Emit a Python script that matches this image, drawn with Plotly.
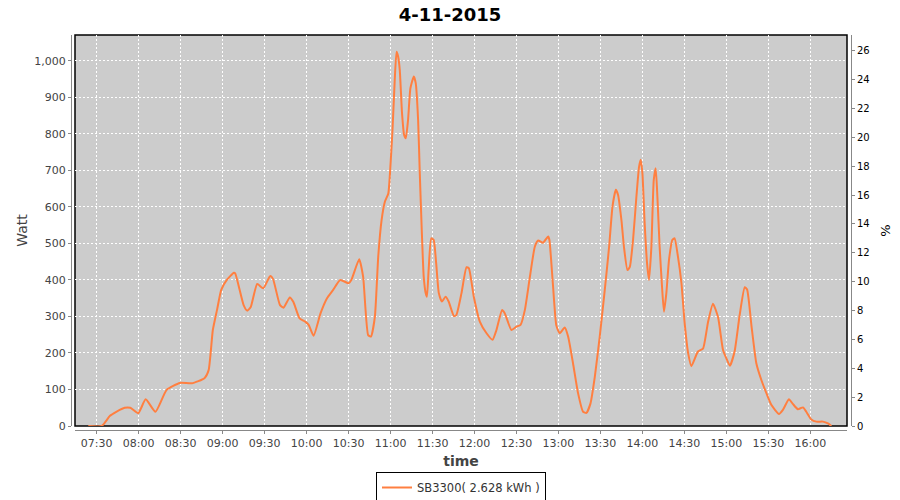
import plotly.graph_objects as go

DAY = "2015-11-04 "

times = [
    "07:24:00", "07:33:36", "07:39:30", "07:44:00", "07:50:00", "07:54:00", "07:59:42", "08:05:00",
    "08:12:00", "08:20:00", "08:29:30", "08:38:00", "08:47:00", "08:50:00", "08:53:00", "08:56:00",
    "08:59:00", "09:03:00", "09:08:00", "09:09:00", "09:15:00", "09:17:30", "09:20:00", "09:24:42",
    "09:29:00", "09:34:00", "09:36:00", "09:41:00", "09:43:30", "09:48:00", "09:50:30", "09:55:00",
    "09:59:00", "10:01:30", "10:05:00", "10:10:00", "10:14:36", "10:19:00", "10:24:00", "10:30:00",
    "10:32:00", "10:37:36", "10:40:24", "10:44:00", "10:46:00", "10:48:48", "10:51:12", "10:53:36",
    "10:56:00", "10:58:24", "10:59:36", "11:01:24", "11:03:00", "11:04:18", "11:05:24", "11:06:36",
    "11:08:12", "11:09:42", "11:10:54", "11:12:30", "11:14:12", "11:16:36", "11:18:00", "11:19:42",
    "11:20:54", "11:22:18", "11:23:42", "11:25:06", "11:26:00", "11:27:12", "11:29:06", "11:30:48",
    "11:32:36", "11:34:30", "11:36:42", "11:39:18", "11:41:30", "11:45:18", "11:47:00", "11:50:42",
    "11:54:18", "11:56:00", "11:59:30", "12:03:48", "12:08:36", "12:12:54", "12:15:42", "12:19:42",
    "12:21:36", "12:26:24", "12:30:00", "12:32:54", "12:36:00", "12:39:36", "12:43:06", "12:45:30",
    "12:49:00", "12:52:36", "12:53:30", "12:56:00", "12:58:30", "13:00:54", "13:04:30", "13:06:54",
    "13:10:24", "13:14:00", "13:17:36", "13:20:00", "13:22:54", "13:26:00", "13:29:30", "13:33:06",
    "13:36:12", "13:38:36", "13:41:00", "13:42:36", "13:45:00", "13:46:48", "13:49:18", "13:51:00",
    "13:53:18", "13:55:42", "13:57:36", "13:58:48", "14:00:00", "14:01:36", "14:03:18", "14:04:42",
    "14:06:24", "14:08:06", "14:09:30", "14:10:42", "14:12:18", "14:14:00", "14:15:24", "14:17:06",
    "14:19:00", "14:21:24", "14:23:00", "14:25:24", "14:27:54", "14:30:12", "14:32:42", "14:35:00",
    "14:39:42", "14:43:18", "14:46:54", "14:50:24", "14:54:00", "14:57:36", "15:00:00", "15:02:30",
    "15:05:54", "15:09:30", "15:13:06", "15:14:48", "15:18:00", "15:21:24", "15:25:00", "15:28:36",
    "15:32:06", "15:37:36", "15:40:24", "15:44:42", "15:47:36", "15:51:06", "15:54:42", "15:57:06",
    "16:00:42", "16:04:18", "16:09:00", "16:12:36", "16:15:00",
]

watts = [
    0, 0, 28, 39, 50, 50, 35, 73,
    39, 99, 118, 117, 131, 153, 263, 318,
    373, 400, 420, 418, 331, 316, 325, 389,
    377, 411, 403, 331, 324, 352, 340, 295,
    286, 277, 247, 309, 350, 373, 400, 391,
    400, 457, 409, 249, 245, 299, 464, 564,
    615, 637, 692, 811, 948, 1025, 1012, 975,
    857, 797, 788, 838, 925, 957, 939, 838,
    692, 537, 409, 364, 354, 427, 514, 510,
    446, 364, 341, 354, 341, 301, 304, 364,
    435, 432, 354, 286, 254, 236, 263, 318,
    309, 263, 272, 277, 318, 409, 491, 508,
    502, 519, 510, 390, 275, 254, 270, 245,
    172, 90, 39, 36, 62, 135, 245, 373,
    491, 601, 647, 633, 564, 491, 427, 436,
    510, 628, 710, 729, 692, 555, 446, 400,
    491, 674, 706, 628, 491, 382, 313, 364,
    455, 510, 514, 464, 391, 281, 199, 164,
    204, 212, 285, 335, 299, 208, 185, 165,
    205, 304, 380, 374, 272, 172, 126, 90,
    58, 33, 44, 73, 60, 46, 51, 39,
    18, 12, 12, 7, 0,
]

series_name = "SB3300( 2.628 kWh )"
chart_title = "4-11-2015"
x_range = ["07:14:30", "16:26:12"]
watt_range = [0, 1071]
pct_range = [0, 27.09]

x = [DAY + t for t in times]

fig = go.Figure()
fig.add_trace(go.Scatter(
    x=x, y=watts, mode="lines", name=series_name,
    line=dict(color="#ff7f40", width=2, shape="spline", smoothing=0.5),
    cliponaxis=False,
))
fig.add_trace(go.Scatter(
    x=[x[0], x[-1]], y=[0, 0], yaxis="y2", mode="lines", opacity=0,
    showlegend=False, hoverinfo="skip",
))

W, H = 900, 500
ml, mr, mt, mb = 71, 49, 35, 70
pw = W - ml - mr
ph = H - mt - mb
tickfont = dict(family="DejaVu Sans", size=11, color="#444444")
grid = dict(showgrid=True, gridcolor="white", gridwidth=1, griddash="2px,2px")

fig.update_layout(
    width=W, height=H,
    margin=dict(l=ml, r=mr, t=mt, b=mb, autoexpand=False),
    paper_bgcolor="white", plot_bgcolor="rgba(0,0,0,0)",
    title=dict(text="<b>" + chart_title + "</b>", x=0.5, xanchor="center",
               y=1 - 15 / H, yanchor="middle", automargin=False,
               font=dict(family="DejaVu Sans", size=18, color="black")),
    xaxis=dict(
        type="date", domain=[4 / pw, 1 - 4 / pw], automargin=False,
        range=[DAY + x_range[0], DAY + x_range[1]],
        tick0=DAY + "07:30:00", dtick=30 * 60 * 1000, tickformat="%H:%M",
        anchor="free", position=0,
        showline=True, linecolor="#888888", linewidth=1,
        ticks="outside", ticklen=3, tickcolor="#888888",
        tickfont=tickfont, zeroline=False,
        title=dict(text="<b>time</b>", standoff=6,
                   font=dict(family="DejaVu Sans", size=14, color="#444444")),
        **grid,
    ),
    yaxis=dict(
        domain=[4 / ph, 1], range=watt_range, dtick=100, tickformat=",", automargin=False,
        anchor="free", position=0,
        showline=True, linecolor="#888888", linewidth=1,
        ticks="outside", ticklen=3, tickcolor="#888888",
        tickfont=tickfont, zeroline=False,
        title=dict(text="Watt", standoff=2,
                   font=dict(family="DejaVu Sans", size=14, color="#444444")),
        **grid,
    ),
    yaxis2=dict(
        overlaying="y", side="right", range=pct_range, dtick=2, automargin=False,
        anchor="free", position=1,
        showline=True, linecolor="#888888", linewidth=1,
        ticks="outside", ticklen=3, tickcolor="#888888",
        tickfont=dict(family="DejaVu Sans", size=10, color="black"),
        showgrid=False, zeroline=False,
        title=dict(text="%", standoff=12,
                   font=dict(family="DejaVu Sans", size=13, color="black")),
    ),
    legend=dict(
        orientation="h", x=0.5, xanchor="center", y=-(472 - 430) / ph, yanchor="top",
        bordercolor="black", borderwidth=1, bgcolor="white",
        font=dict(family="DejaVu Sans", size=11.5, color="#333333"),
        itemwidth=30,
    ),
    shapes=[dict(type="rect", xref="x domain", yref="y domain", x0=0, x1=1, y0=0, y1=1,
                 line=dict(color="black", width=1.5), fillcolor="#cccccc", layer="below")],
)

fig.write_html("out.html", config={"displayModeBar": False},
               post_script="document.body.style.margin='0px';")
